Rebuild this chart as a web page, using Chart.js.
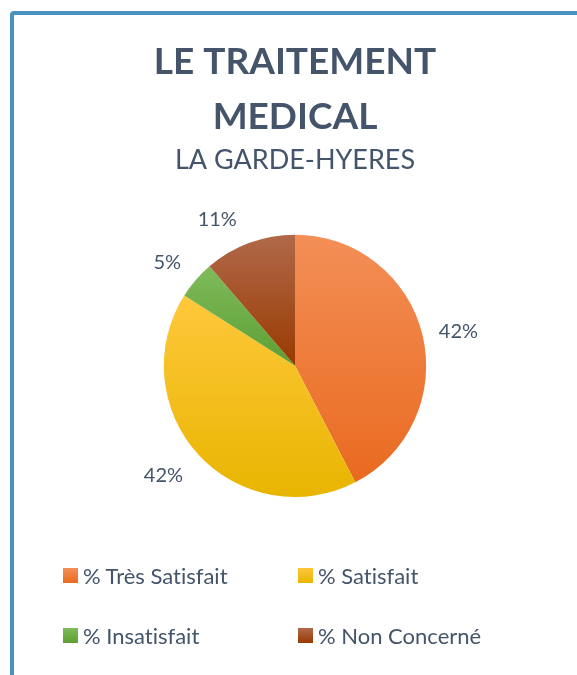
<!DOCTYPE html>
<html>
<head>
<meta charset="utf-8">
<script src="https://cdn.jsdelivr.net/npm/chart.js@4/dist/chart.umd.min.js"></script>
<style>
  html, body { margin: 0; padding: 0; background: #fff; overflow: hidden; }
  body { width: 577px; height: 675px; position: relative; font-family: Lato, "Open Sans", sans-serif; }
  #frame { position: absolute; left: 10px; top: 11px; width: 700px; height: 800px;
           border: 4px solid #4b93bf; border-radius: 4px; box-sizing: border-box; }
  #wrap { position: absolute; left: 0; top: 0; width: 577px; height: 675px; }
  #legend { position: absolute; left: 63px; top: 560px; display: grid;
            grid-template-columns: 235px 235px; row-gap: 30px; }
  .item { display: flex; align-items: center; height: 30px; font-size: 22px; color: #44546a;
          font-variant-ligatures: none; }
  .box { width: 15px; height: 15px; margin-right: 5px; }
</style>
</head>
<body>
<div id="frame"></div>
<div id="wrap"><canvas id="pie"></canvas></div>
<div id="legend"></div>
<script>
const categories = ['% Très Satisfait', '% Satisfait', '% Insatisfait', '% Non Concerné'];
const values = [42.4, 41.6, 4.7, 11.3];
const topColors = ['#f38f57', '#ffc83c', '#7fbb5b', '#b0694a'];
const bottomColors = ['#e96a1f', '#e8b500', '#5c9f33', '#993a00'];
const txt = '#44546a';

// vertical gradient over each slice's own height, like the office fill
const sliceGradient = {
  id: 'sliceGradient',
  beforeDatasetsDraw(chart) {
    const c = chart.ctx;
    chart.getDatasetMeta(0).data.forEach((arc, i) => {
      const p = arc.getProps(['x', 'y', 'startAngle', 'endAngle', 'outerRadius'], true);
      let ys = [p.y, p.y + p.outerRadius * Math.sin(p.startAngle), p.y + p.outerRadius * Math.sin(p.endAngle)];
      [Math.PI / 2, -Math.PI / 2, Math.PI * 1.5].forEach(a => {
        if (a > p.startAngle && a < p.endAngle) ys.push(p.y + p.outerRadius * Math.sin(a));
      });
      const g = c.createLinearGradient(0, Math.min(...ys), 0, Math.max(...ys));
      g.addColorStop(0, topColors[i]);
      g.addColorStop(1, bottomColors[i]);
      arc.options.backgroundColor = g;
    });
  }
};

// percent labels outside the pie (small nudges like office best-fit)
const outLabels = {
  id: 'outLabels',
  afterDatasetsDraw(chart, args, opts) {
    const c = chart.ctx;
    c.save();
    c.font = '20px Lato, "Open Sans", sans-serif';
    c.fillStyle = txt;
    c.textAlign = 'center';
    c.textBaseline = 'middle';
    chart.getDatasetMeta(0).data.forEach((arc, i) => {
      const p = arc.getProps(['x', 'y', 'startAngle', 'endAngle', 'outerRadius'], true);
      const mid = (p.startAngle + p.endAngle) / 2;
      const d = p.outerRadius + 35;
      const n = opts.nudge[i] || [0, 0];
      c.fillText(Math.round(values[i]) + '%', p.x + d * Math.cos(mid) + n[0], p.y + d * Math.sin(mid) + n[1]);
    });
    c.restore();
  }
};

const chart = new Chart(document.getElementById('pie'), {
  type: 'pie',
  data: {
    labels: categories,
    datasets: [{
      data: values,
      backgroundColor: topColors,
      borderWidth: 0,
      hoverOffset: 0
    }]
  },
  options: {
    responsive: true,
    maintainAspectRatio: false,
    animation: false,
    events: [],
    layout: { padding: { top: 0, left: 13, right: 0, bottom: 178 } },
    plugins: {
      legend: { display: false },
      tooltip: { enabled: false },
      outLabels: { nudge: [[2, 5], [-9, -3], [-2, 5], [-20, 10]] },
      title: {
        display: true,
        text: ['LE TRAITEMENT', 'MEDICAL'],
        color: txt,
        font: { family: 'Lato', size: 37, weight: 'bold', lineHeight: 1.49 },
        padding: { top: 34, bottom: 0 }
      },
      subtitle: {
        display: true,
        text: 'LA GARDE-HYERES',
        color: txt,
        font: { family: 'Lato', size: 27, lineHeight: 1.2 },
        padding: { top: 0, bottom: 58 }
      }
    }
  },
  plugins: [sliceGradient, outLabels]
});

// html legend in two columns
const leg = document.getElementById('legend');
chart.options.plugins.legend.labels.generateLabels(chart).forEach(item => {
  const i = item.index;
  const div = document.createElement('div');
  div.className = 'item';
  div.innerHTML = '<span class="box" style="background:linear-gradient(' + topColors[i] + ',' + bottomColors[i] + ')"></span>' + item.text;
  leg.appendChild(div);
});
</script>
</body>
</html>
